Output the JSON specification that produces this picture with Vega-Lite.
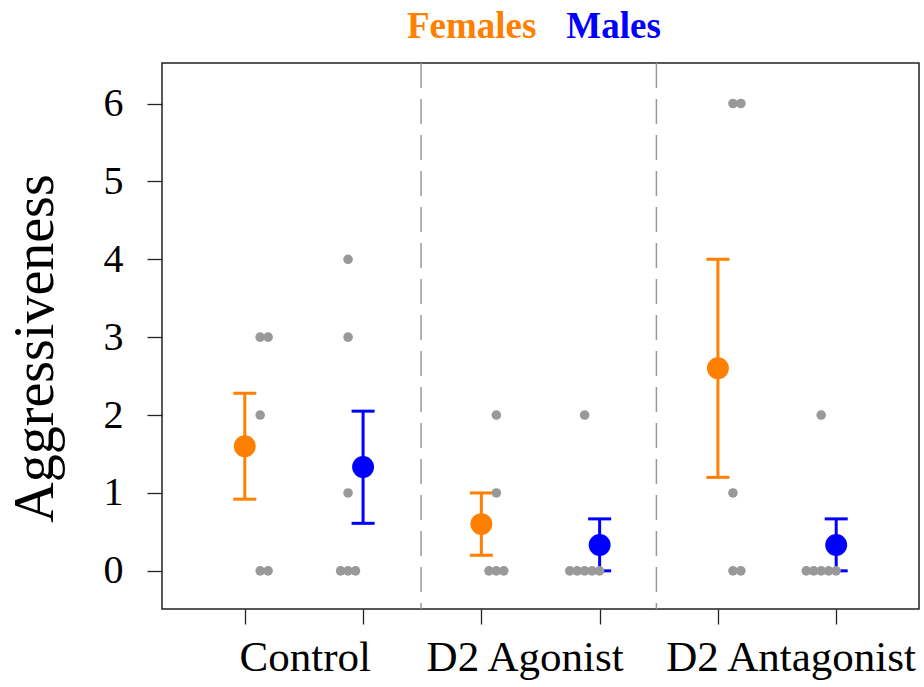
{
  "$schema": "https://vega.github.io/schema/vega-lite/v6.json",
  "autosize": "none",
  "width": 757,
  "height": 546,
  "padding": {"left": 162, "top": 63, "right": 5, "bottom": 78},
  "background": "white",
  "config": {
    "view": {"stroke": "#222222", "strokeWidth": 1.5},
    "font": "Liberation Serif"
  },
  "datasets": {
    "dividers": [{"x": 2.49}, {"x": 4.48}],
    "dots": [
      {"x": 1.13, "value": 3}, {"x": 1.197, "value": 3}, {"x": 1.13, "value": 2}, {"x": 1.13, "value": 0}, {"x": 1.197, "value": 0},
      {"x": 1.873, "value": 4}, {"x": 1.873, "value": 3}, {"x": 1.873, "value": 1}, {"x": 1.81, "value": 0}, {"x": 1.873, "value": 0}, {"x": 1.936, "value": 0},
      {"x": 3.127, "value": 2}, {"x": 3.127, "value": 1}, {"x": 3.064, "value": 0}, {"x": 3.127, "value": 0}, {"x": 3.19, "value": 0},
      {"x": 3.873, "value": 2}, {"x": 3.747, "value": 0}, {"x": 3.81, "value": 0}, {"x": 3.873, "value": 0}, {"x": 3.936, "value": 0}, {"x": 3.999, "value": 0},
      {"x": 5.127, "value": 6}, {"x": 5.194, "value": 6}, {"x": 5.127, "value": 1}, {"x": 5.127, "value": 0}, {"x": 5.194, "value": 0},
      {"x": 5.873, "value": 2}, {"x": 5.747, "value": 0}, {"x": 5.81, "value": 0}, {"x": 5.873, "value": 0}, {"x": 5.936, "value": 0}, {"x": 5.999, "value": 0}
    ],
    "means": [
      {"x": 1, "sex": "Females", "mean": 1.6, "lo": 0.92, "hi": 2.28},
      {"x": 2, "sex": "Males", "mean": 1.333, "lo": 0.61, "hi": 2.05},
      {"x": 3, "sex": "Females", "mean": 0.6, "lo": 0.2, "hi": 1.0},
      {"x": 4, "sex": "Males", "mean": 0.333, "lo": 0.0, "hi": 0.667},
      {"x": 5, "sex": "Females", "mean": 2.6, "lo": 1.2, "hi": 4.0},
      {"x": 6, "sex": "Males", "mean": 0.333, "lo": 0.0, "hi": 0.667}
    ],
    "headers": [
      {"x": 2.918, "y": 6.838, "sex": "Females"},
      {"x": 4.118, "y": 6.838, "sex": "Males"}
    ]
  },
  "encoding": {
    "x": {
      "field": "x",
      "type": "quantitative",
      "scale": {"domain": [0.3, 6.7], "nice": false, "zero": false},
      "axis": {
        "title": null,
        "grid": false,
        "domain": false,
        "values": [1, 1.507, 2, 3, 3.366, 4, 5, 5.614, 6],
        "labelExpr": "datum.value == 1.507 ? 'Control' : datum.value == 3.366 ? 'D2 Agonist' : datum.value == 5.614 ? 'D2 Antagonist' : ''",
        "tickColor": {"condition": {"test": "datum.value % 1 != 0", "value": "transparent"}, "value": "#222222"},
        "tickSize": 15,
        "tickWidth": 1.3,
        "labelFont": "Liberation Serif",
        "labelFontSize": 43,
        "labelColor": "black",
        "labelPadding": 12,
        "labelLimit": 0,
        "labelOverlap": false,
        "labelFlush": false,
        "labelBound": false
      }
    },
    "y": {
      "type": "quantitative",
      "title": "Aggressiveness",
      "scale": {"domain": [-0.49, 6.52], "nice": false, "zero": false},
      "axis": {
        "titleFont": "Liberation Serif",
        "titleFontSize": 56,
        "titleFontWeight": "normal",
        "titleColor": "black",
        "titleAngle": -90,
        "titleAlign": "center",
        "titleBaseline": "alphabetic",
        "titleX": -110,
        "titleY": 285,
        "grid": false,
        "domain": false,
        "values": [0, 1, 2, 3, 4, 5, 6],
        "tickSize": 15,
        "tickWidth": 1.3,
        "tickColor": "#222222",
        "labelFont": "Liberation Serif",
        "labelFontSize": 40,
        "labelColor": "black",
        "labelPadding": 24
      }
    },
    "color": {"field": "sex", "type": "nominal", "scale": {"domain": ["Females", "Males"], "range": ["#FF7F00", "#0000FF"]}, "legend": null}
  },
  "layer": [
    {
      "data": {"name": "dividers"},
      "mark": {"type": "rule", "color": "#999999", "strokeWidth": 1.5, "strokeDash": [25, 11]},
      "encoding": {"y": null, "color": null}
    },
    {
      "data": {"name": "means"},
      "mark": {"type": "rule", "strokeWidth": 3},
      "encoding": {
        "y": {"field": "lo", "type": "quantitative", "title": "Aggressiveness"},
        "y2": {"field": "hi"}
      }
    },
    {
      "data": {"name": "means"},
      "mark": {"type": "tick", "orient": "horizontal", "size": 23, "thickness": 3, "opacity": 1},
      "encoding": {
        "y": {"field": "hi", "type": "quantitative", "title": "Aggressiveness"}
      }
    },
    {
      "data": {"name": "means"},
      "mark": {"type": "tick", "orient": "horizontal", "size": 23, "thickness": 3, "opacity": 1},
      "encoding": {
        "y": {"field": "lo", "type": "quantitative", "title": "Aggressiveness"}
      }
    },
    {
      "data": {"name": "dots"},
      "mark": {"type": "circle", "size": 92, "color": "#999999", "opacity": 1},
      "encoding": {
        "y": {"field": "value", "type": "quantitative", "title": "Aggressiveness"},
        "color": null
      }
    },
    {
      "data": {"name": "means"},
      "mark": {"type": "circle", "size": 480, "opacity": 1},
      "encoding": {
        "y": {"field": "mean", "type": "quantitative", "title": "Aggressiveness"}
      }
    },
    {
      "data": {"name": "headers"},
      "mark": {"type": "text", "font": "Liberation Serif", "fontSize": 37, "fontWeight": "bold", "align": "center", "baseline": "alphabetic"},
      "encoding": {
        "y": {"field": "y", "type": "quantitative", "title": "Aggressiveness"},
        "text": {"field": "sex"}
      }
    }
  ]
}
